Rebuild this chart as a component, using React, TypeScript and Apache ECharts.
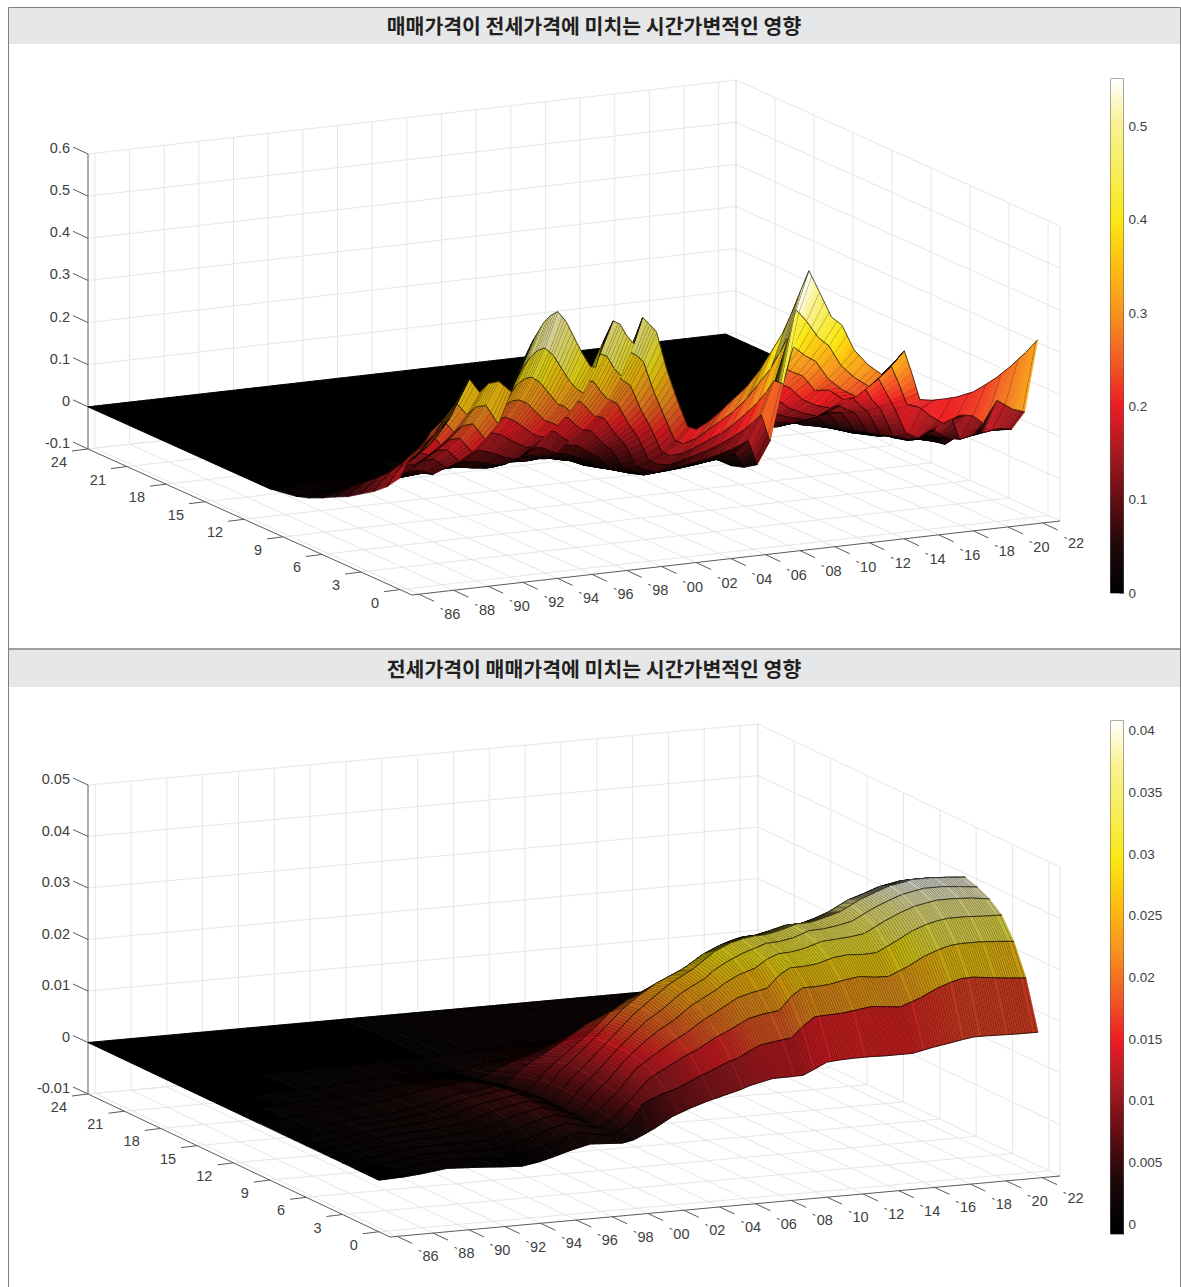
import React, { useEffect, useRef } from "react";
import * as echarts from "echarts";

const titleTop = "매매가격이 전세가격에 미치는 시간가변적인 영향";
const titleBottom = "전세가격이 매매가격에 미치는 시간가변적인 영향";
const timeTicks = [1986,1988,1990,1992,1994,1996,1998,2000,2002,2004,2006,2008,2010,2012,2014,2016,2018,2020,2022];
const horizonTicks = [0,3,6,9,12,15,18,21,24];
const zTicksTop = [-0.1,0,0.1,0.2,0.3,0.4,0.5,0.6];
const zTicksBottom = [-0.01,0,0.01,0.02,0.03,0.04,0.05];
const barTicksTop = [0,0.1,0.2,0.3,0.4,0.5];
const barTicksBottom = [0,0.005,0.01,0.015,0.02,0.025,0.03,0.035,0.04];

const timesTop = [
1985.6,1986,1986.5,1987,1987.5,1988,1988.5,1989,
1989.6,1990.2,1990.7,1991.3,1992,1992.6,1993.3,1993.9,
1994.3,1994.7,1995.2,1995.8,1996.2,1996.6,1996.9,1997.3,
1997.9,1998.3,1998.7,1999.1,1999.6,2000,2000.4,2001,
2001.6,2002.2,2002.7,2003.4,2004,2004.8,2005.6,2006.3,
2007,2007.7,2008.2,2008.7,2009.2,2009.8,2010.5,2011.1,
2011.8,2012.6,2013.4,2014,2014.7,2015.1,2015.6,2016.3,
2017,2017.7,2018.7,2019.4,2020,2020.8,2021.7,2022.4];
const horizonsTop = [0,1,2,3,4,5,6,7,8,10,12,24];
const topH0 = [.165,.195,.225,.235,.255,.27,.295,.334,.381,.346,.365,.367,.34,.40,.457,.495,.51,.517,.49,.438,.405,.377,.375,.43,.48,.47,.44,.42,.48,.462,.442,.349,.275,.209,.2,.215,.233,.26,.287,.32,.362,.406,.45,.499,.546,.493,.43,.408,.346,.307,.28,.30,.33,.28,.21,.205,.205,.206,.214,.228,.241,.263,.293,.32];
const topH1 = [.13,.155,.18,.19,.205,.218,.238,.27,.31,.28,.295,.297,.25,.315,.37,.40,.413,.417,.397,.355,.328,.309,.30,.345,.388,.38,.35,.33,.385,.374,.358,.283,.223,.163,.152,.161,.175,.195,.215,.24,.272,.305,.338,.374,.44,.41,.367,.345,.295,.262,.238,.255,.28,.24,.185,.175,.15,.13,.145,.14,.12,.17,.145,.135];
const topH2 = [.105,.125,.145,.153,.166,.176,.192,.217,.255,.225,.237,.239,.2,.255,.297,.322,.332,.334,.318,.285,.263,.255,.243,.28,.312,.305,.28,.26,.316,.30,.287,.227,.179,.121,.11,.112,.121,.135,.149,.166,.188,.211,.234,.26,.25,.335,.31,.294,.25,.22,.20,.216,.238,.205,.165,.10,.085,.10,.15,.07,.075,.08,.085,.08];
const topH3 = [.085,.10,.117,.122,.133,.14,.153,.174,.211,.18,.19,.191,.155,.2,.238,.257,.265,.266,.255,.228,.21,.203,.195,.224,.25,.244,.225,.205,.255,.24,.23,.182,.143,.088,.076,.071,.077,.086,.095,.106,.119,.134,.149,.165,.10,.275,.258,.245,.208,.205,.18,.18,.198,.17,.145,.08,.07,.075,.08,.06,.065,.068,.07,.064];
const topH4 = [.065,.08,.092,.096,.105,.111,.121,.137,.152,.142,.15,.15,.12,.155,.187,.203,.209,.211,.20,.18,.166,.156,.154,.176,.197,.193,.175,.16,.198,.189,.181,.143,.113,.061,.05,.039,.042,.047,.052,.058,.065,.073,.081,.09,.03,.227,.215,.204,.173,.155,.145,.15,.165,.145,.125,.07,.06,.06,.06,.05,.05,.055,.055,.05];
const topH5 = [.05,.06,.07,.073,.079,.084,.091,.104,.105,.107,.113,.114,.09,.12,.142,.153,.158,.16,.152,.136,.126,.117,.116,.133,.149,.146,.13,.12,.144,.143,.137,.108,.085,.042,.032,.019,.021,.023,.026,.029,.033,.037,.04,.045,.01,.182,.172,.163,.138,.123,.112,.12,.13,.12,.11,.06,.05,.045,.045,.035,.03,.01,.03,.035];
const topH6 = [.034,.04,.045,.047,.051,.054,.059,.067,.065,.069,.073,.073,.06,.078,.091,.099,.102,.105,.098,.088,.081,.075,.075,.086,.096,.094,.085,.078,.095,.092,.088,.07,.055,.025,.018,.009,.009,.01,.011,.013,.014,.016,.018,.02,0,.143,.138,.13,.11,.098,.09,.095,.10,.10,.095,.05,.04,.03,.03,.012,.012,.004,.012,.015];
const topH7 = [.02,.024,.028,.03,.032,.034,.037,.042,.041,.043,.046,.046,.05,.054,.057,.062,.064,.065,.061,.055,.05,.047,.047,.054,.06,.062,.058,.057,.06,.058,.055,.044,.034,.015,.01,.003,.003,.004,.004,.005,.005,.006,.006,.007,0,.103,.103,.098,.083,.074,.067,.07,.075,.08,.08,.04,.03,.02,.015,.004,.004,0,.004,.005];
const topH8 = [.01,.012,.015,.016,.018,.019,.02,.023,.024,.024,.025,.026,.028,.03,.032,.035,.036,.036,.034,.03,.028,.026,.026,.03,.034,.033,.032,.032,.034,.032,.031,.024,.019,.006,.004,0,0,0,0,0,0,0,0,0,0,.069,.069,.065,.055,.049,.045,.048,.05,.055,.06,.03,.02,.01,.005,0,0,0,0,0];
const topH10 = [0,0,.002,.002,.003,.003,.003,.004,.005,.005,.005,.005,.006,.006,.006,.007,.007,.007,.007,.006,.006,.005,.005,.006,.007,.007,.006,.006,.007,.006,.006,.005,.004,0,0,0,0,0,0,0,0,0,0,0,0,.015,.02,.02,.017,.015,.014,.015,.016,.018,.02,.008,.005,0,0,0,0,0,0,0];
const topFlat = [0,0,0,0,0,0,0,0,0,0,0,0,0,0,0,0,0,0,0,0,0,0,0,0,0,0,0,0,0,0,0,0,0,0,0,0,0,0,0,0,0,0,0,0,0,0,0,0,0,0,0,0,0,0,0,0,0,0,0,0,0,0,0,0];
const rowsTop = [topH0,topH1,topH2,topH3,topH4,topH5,topH6,topH7,topH8,topH10,topFlat,topFlat];

const timesBottom = [
1985.6,1987,1988,1989.4,1990.4,1991.4,1992.5,1993.6,
1994.5,1995.3,1996.3,1997.4,1998.3,1999.2,1999.8,2000.4,
2001,2002,2003,2003.9,2004.8,2005.8,2006.3,2007.2,
2007.6,2008.4,2009.3,2010,2010.6,2011.3,2012.1,2013,
2013.8,2014.6,2015.4,2016.5,2017.4,2018.2,2018.8,2019.4,
2020.4,2021.4,2022.4];
const horizonsBottom = [0,1,2,3,4,5,6,7,8,10,12,14,17,24];
const botH0 = [0,.0002,.0005,.0011,.0009,.0007,.0004,.0002,.0007,.0014,.0024,.0033,.0031,.0029,.0033,.0042,.0052,.0072,.0085,.0095,.0103,.0112,.0118,.0125,.0128,.0128,.0129,.014,.015,.0152,.0153,.0153,.0152,.0152,.0152,.016,.0165,.017,.0173,.0173,.0172,.0171,.0171];
const botH1 = [0,.0003,.0007,.0014,.0013,.0011,.0008,.0006,.0012,.0021,.0034,.0044,.0038,.0033,.0042,.0058,.0088,.0103,.0113,.0128,.014,.0155,.016,.0176,.0182,.0186,.019,.0212,.0227,.0228,.0229,.0233,.0237,.0234,.0231,.0245,.026,.027,.0275,.0276,.0272,.0268,.0265];
const botH2 = [0,.0004,.0008,.0015,.0016,.0015,.0013,.0012,.0019,.0028,.0041,.0051,.0044,.0036,.0047,.0067,.0085,.0122,.0141,.0158,.0172,.0192,.0199,.0215,.0222,.0228,.0232,.0258,.0272,.0272,.0274,.028,.0284,.028,.0279,.0295,.0312,.0322,.0328,.033,.033,.0328,.0325];
const botH3 = [0,.0005,.0009,.0016,.0018,.0018,.0018,.0018,.0027,.0036,.0047,.0056,.0048,.0038,.0052,.0074,.0092,.0132,.0155,.0175,.0192,.0215,.0224,.0242,.025,.0258,.0264,.0288,.03,.03,.0303,.0312,.0315,.0313,.0314,.0333,.035,.036,.0365,.0368,.0368,.0366,.0365];
const botH4 = [0,.0006,.001,.0017,.002,.002,.0022,.0024,.0033,.0042,.0052,.0059,.0051,.004,.0056,.0079,.0097,.0135,.0165,.0188,.0206,.0232,.0241,.0258,.0268,.0282,.0292,.0308,.0316,.0317,.0322,.0332,.0334,.0336,.034,.036,.0374,.0384,.0388,.0392,.0392,.039,.0385];
const botH5 = [0,.0006,.0011,.0018,.0021,.0021,.0025,.0029,.0038,.0047,.0055,.0061,.0053,.0041,.0058,.0083,.01,.0136,.0168,.0195,.0215,.0242,.0252,.0268,.028,.0296,.031,.0318,.0325,.0326,.0331,.0342,.0343,.0347,.0353,.0373,.0386,.0396,.04,.0404,.0404,.0401,.0397];
const botH6 = [0,.0006,.0011,.0018,.0021,.0022,.0026,.0032,.0042,.005,.0056,.0062,.0055,.0042,.006,.0085,.0102,.0135,.0168,.0198,.0222,.0248,.0258,.0275,.0285,.0305,.0319,.0325,.0328,.0329,.0335,.0344,.0345,.0352,.036,.038,.0392,.0402,.0405,.041,.041,.0408,.0405];
const botH7 = [0,.0006,.001,.0017,.002,.0022,.0026,.0033,.0043,.005,.0055,.0061,.0054,.0041,.006,.0085,.0102,.0133,.0165,.0195,.0218,.024,.0248,.0262,.027,.0288,.0302,.031,.0315,.0316,.0322,.033,.033,.0338,.0348,.0368,.0378,.0388,.0392,.0396,.0396,.0394,.039];
const botH8 = [0,.0005,.0009,.0016,.0018,.002,.0025,.0031,.004,.0047,.005,.0056,.005,.0038,.0056,.0079,.0095,.0122,.015,.0178,.0198,.0215,.022,.0232,.024,.0255,.0268,.0275,.028,.0282,.0288,.0295,.0297,.0303,.0312,.033,.034,.035,.0355,.036,.036,.0358,.0355];
const botH10 = [0,.0003,.0006,.0012,.0014,.0016,.002,.0025,.0032,.0037,.004,.0043,.0038,.003,.0042,.006,.0072,.0092,.0112,.0132,.0145,.0158,.0162,.0172,.0178,.0188,.0196,.02,.0205,.0206,.021,.0215,.0216,.022,.0226,.0238,.0246,.0252,.0256,.026,.026,.0258,.0256];
const botH12 = [0,.0002,.0003,.0007,.0009,.001,.0012,.0016,.002,.0024,.0025,.0027,.0024,.0019,.0027,.0038,.0045,.0056,.0068,.008,.0088,.0096,.0098,.0104,.0108,.0114,.012,.0122,.0124,.0125,.0127,.013,.013,.0134,.0138,.0145,.015,.0154,.0156,.0158,.0158,.0157,.0155];
const botH14 = [0,.0001,.0001,.0003,.0004,.0005,.0006,.0008,.001,.0012,.0012,.0013,.0012,.0009,.0013,.0018,.0022,.0028,.0034,.004,.0044,.0048,.0049,.0052,.0054,.0057,.006,.0061,.0062,.0062,.0063,.0065,.0065,.0067,.0069,.0072,.0075,.0077,.0078,.0079,.0079,.0078,.0077];
const botH17 = [0,0,0,.0001,.0001,.0001,.0002,.0002,.0003,.0003,.0003,.0004,.0003,.0002,.0004,.0005,.0006,.0008,.001,.0012,.0013,.0014,.0015,.0015,.0016,.0017,.0018,.0018,.0019,.0019,.0019,.002,.002,.002,.0021,.0022,.0022,.0023,.0023,.0024,.0024,.0023,.0023];
const botFlat = [0,0,0,0,0,0,0,0,0,0,0,0,0,0,0,0,0,0,0,0,0,0,0,0,0,0,0,0,0,0,0,0,0,0,0,0,0,0,0,0,0,0,0,0,0,0,0,0,0,0,0,0,0,0,0,0,0,0,0,0,0,0,0];
const rowsBottom = [botH0,botH1,botH2,botH3,botH4,botH5,botH6,botH7,botH8,botH10,botH12,botH14,botH17,botFlat];

// colour map: fraction of the bar's maximum -> colour
const colorStops = [
  [0,[0,0,0]],[0.09,[30,8,8]],[0.182,[98,14,18]],[0.27,[165,26,32]],[0.364,[237,28,36]],
  [0.45,[241,90,36]],[0.545,[247,148,30]],[0.636,[253,190,16]],[0.727,[250,232,20]],
  [0.82,[247,238,90]],[0.91,[249,241,145]],[1,[255,255,255]],
];
function mapRgb(f) {
  const v = Math.max(0, Math.min(1, f));
  for (let i = 1; i < colorStops.length; i++) {
    const [a, ca] = colorStops[i - 1];
    const [b, cb] = colorStops[i];
    if (v <= b) {
      const k = (v - a) / (b - a);
      return [ca[0] + (cb[0] - ca[0]) * k, ca[1] + (cb[1] - ca[1]) * k, ca[2] + (cb[2] - ca[2]) * k];
    }
  }
  return [255, 255, 255];
}
function mapColor(f, shade = 1) {
  const c = mapRgb(f);
  return `rgb(${Math.round(c[0] * shade)},${Math.round(c[1] * shade)},${Math.round(c[2] * shade)})`;
}

const T_MIN = 1985.6, T_SPAN = 37.4, H_MIN = -0.92, H_SPAN = 24.92;
const AXIS_FONT = '14.5px "Liberation Sans", Arial, sans-serif';
const AXIS_TEXT = "#404040";

const viewTop = {
  ox: 412, oy: 595, xv: [648, -74], yv: [-324, -146], zh: 295, zMin: -0.1, zMax: 0.6,
  times: timesTop, hs: horizonsTop, rows: rowsTop, cMax: 0.551, zTicks: zTicksTop, stripPx: 2.7,
  hatchAlpha: 0.7, edgeOn: 6,
  meshTone: (t) => (t < 2002.4 ? 0.84 : 1),
  pitch: (t) => (t < 2002.4 ? 2.7 : t < 2008.6 ? 13 : t < 2013.5 ? 6 : 17),
};
const viewBottom = {
  ox: 390, oy: 1237, xv: [670, -61], yv: [-302, -143], zh: 309, zMin: -0.01, zMax: 0.05,
  times: timesBottom, hs: horizonsBottom, rows: rowsBottom, cMax: 0.0408, zTicks: zTicksBottom, stripPx: 2.4,
  hatchAlpha: 0.7, edgeOn: 7,
  meshTone: () => 0.76,
  pitch: () => 2.4,
};

function project(v, t, h, z) {
  const tx = (t - T_MIN) / T_SPAN;
  const ty = (h - H_MIN) / H_SPAN;
  return [
    v.ox + v.xv[0] * tx + v.yv[0] * ty,
    v.oy + v.xv[1] * tx + v.yv[1] * ty - v.zh * (z - v.zMin) / (v.zMax - v.zMin),
  ];
}
function corner(v, tx, ty, z) {
  return [
    v.ox + v.xv[0] * tx + v.yv[0] * ty,
    v.oy + v.xv[1] * tx + v.yv[1] * ty - v.zh * (z - v.zMin) / (v.zMax - v.zMin),
  ];
}

function frameSeries(v) {
  return {
    type: "custom", coordinateSystem: "cartesian2d", xAxisIndex: 0, yAxisIndex: 0, z: 1, silent: true, clip: false,
    data: [[0, 0]],
    renderItem: (_p, api) => {
      const c = (p) => api.coord(p);
      const kids = [];
      const line = (a, b, stroke, w) => {
        const p = c(a), q = c(b);
        kids.push({ type: "line", shape: { x1: p[0], y1: p[1], x2: q[0], y2: q[1] }, style: { stroke, lineWidth: w } });
      };
      const grid = "#e6e6e6";
      const dark = "#5a5a5a";
      const zb = v.zMin, zt = v.zMax;
      for (const t of timeTicks) {
        const tx = (t - T_MIN) / T_SPAN;
        line(corner(v, tx, 1, zb), corner(v, tx, 1, zt), grid, 1);
        line(corner(v, tx, 0, zb), corner(v, tx, 1, zb), grid, 1);
      }
      for (const h of horizonTicks) {
        const ty = (h - H_MIN) / H_SPAN;
        line(corner(v, 1, ty, zb), corner(v, 1, ty, zt), grid, 1);
        line(corner(v, 0, ty, zb), corner(v, 1, ty, zb), grid, 1);
      }
      for (const z of v.zTicks) {
        line(corner(v, 0, 1, z), corner(v, 1, 1, z), grid, 1);
        line(corner(v, 1, 1, z), corner(v, 1, 0, z), grid, 1);
      }
      line(corner(v, 1, 1, zb), corner(v, 1, 1, zt), grid, 1);
      line(corner(v, 1, 0, zb), corner(v, 1, 0, zt), grid, 1);
      line(corner(v, 0, 0, zb), corner(v, 1, 0, zb), dark, 1);
      line(corner(v, 0, 0, zb), corner(v, 0, 1, zb), dark, 1);
      line(corner(v, 0, 1, zb), corner(v, 0, 1, zt), dark, 1);
      const text = (s, p, align) => {
        const q = c(p);
        kids.push({ type: "text", x: q[0], y: q[1], style: { text: s, font: AXIS_FONT, fill: AXIS_TEXT, align, verticalAlign: "middle" } });
      };
      for (const t of timeTicks) {
        const a = corner(v, (t - T_MIN) / T_SPAN, 0, zb);
        line(a, [a[0] + 15, a[1] + 7], dark, 1);
        text("`" + String(t).slice(2), [a[0] + 31, a[1] + 20], "center");
      }
      for (const h of horizonTicks) {
        const a = corner(v, 0, (h - H_MIN) / H_SPAN, zb);
        line(a, [a[0] - 16, a[1] + 2], dark, 1);
        text(String(h), [a[0] - 21, a[1] + 13], "right");
      }
      for (const z of v.zTicks) {
        const a = corner(v, 0, 1, z);
        line(a, [a[0] - 15, a[1] - 7], dark, 1);
        text(String(z), [a[0] - 18, a[1] - 6], "right");
      }
      return { type: "group", children: kids };
    },
  };
}

function surfaceSeries(v) {
  const cells = [];
  for (let i = v.times.length - 2; i >= 0; i--) {
    for (let j = v.hs.length - 2; j >= 0; j--) cells.push([i, j]);
  }
  return {
    type: "custom", coordinateSystem: "cartesian2d", xAxisIndex: 0, yAxisIndex: 0, z: 2, silent: true, clip: false,
    progressive: 0,
    data: cells,
    renderItem: (p, api) => {
      const [i, j] = cells[p.dataIndex];
      const t0 = v.times[i], t1 = v.times[i + 1], h0 = v.hs[j], h1 = v.hs[j + 1];
      const z00 = v.rows[j][i], z10 = v.rows[j][i + 1], z01 = v.rows[j + 1][i], z11 = v.rows[j + 1][i + 1];
      const zAt = (a, b) => (1 - a) * (1 - b) * z00 + a * (1 - b) * z10 + (1 - a) * b * z01 + a * b * z11;
      const pt = (a, b) => api.coord(project(v, t0 + (t1 - t0) * a, h0 + (h1 - h0) * b, zAt(a, b)));
      const maxZ = Math.max(z00, z10, z01, z11);
      if (maxZ < v.cMax * 0.012) {
        return {
          type: "polygon",
          shape: { points: [pt(0, 0), pt(1, 0), pt(1, 1), pt(0, 1)] },
          style: { fill: "#000", stroke: "#000", lineWidth: 1 },
        };
      }
      const a = pt(0, 0), b = pt(1, 0), d = pt(0, 1), e = pt(1, 1);
      const width = Math.abs(b[0] - a[0]);
      const n = Math.max(1, Math.ceil(width / v.stripPx));
      const kids = [];
      const hatchAt = (tv) => Math.floor((tv - T_MIN) * 17.6 / v.pitch(tv));
      const span = Math.max(1, h1 - h0);
      for (let s = n - 1; s >= 0; s--) {
        const a0 = s / n, a1 = (s + 1) / n;
        const p00 = pt(a0, 0), p10 = pt(a1, 0), p11 = pt(a1, 1), p01 = pt(a0, 1);
        // a facet seen nearly edge-on packs its mesh lines together, so it reads darker
        const ux = p10[0] - p00[0], uy = p10[1] - p00[1];
        const wx = (p01[0] - p00[0]) / span, wy = (p01[1] - p00[1]) / span;
        const thick = Math.abs(ux * wy - uy * wx) / Math.max(0.01, Math.hypot(ux, uy));
        const shade = 1 - Math.max(0, Math.min(0.85, (v.edgeOn - thick) / v.edgeOn));
        const tMid = t0 + (t1 - t0) * (a0 + a1) / 2;
        const col = mapColor(zAt((a0 + a1) / 2, 0) / v.cMax, shade * v.meshTone(tMid));
        kids.push({
          type: "polygon",
          shape: { points: [p00, p10, p11, p01] },
          style: { fill: col, stroke: col, lineWidth: 0.6 },
        });
        const ta = t0 + (t1 - t0) * a1, tb = t0 + (t1 - t0) * a0;
        if (hatchAt(ta) !== hatchAt(tb)) {
          kids.push({
            type: "line",
            shape: { x1: p00[0], y1: p00[1], x2: p01[0], y2: p01[1] },
            style: { stroke: `rgba(0,0,0,${v.hatchAlpha})`, lineWidth: 1 },
          });
        }
      }
      const rowLine = { stroke: "rgba(0,0,0,0.85)", lineWidth: 0.8 };
      kids.push({ type: "line", shape: { x1: d[0], y1: d[1], x2: e[0], y2: e[1] }, style: rowLine });
      kids.push({ type: "line", shape: { x1: a[0], y1: a[1], x2: b[0], y2: b[1] }, style: rowLine });
      return { type: "group", children: kids };
    },
  };
}

function barSeries(gridIndex, min, max, cMax) {
  return {
    type: "custom", coordinateSystem: "cartesian2d", xAxisIndex: gridIndex, yAxisIndex: gridIndex, z: 1, silent: true,
    data: [[0, min, max]],
    renderItem: (_p, api) => {
      const lo = api.coord([0, api.value(1)]);
      const hi = api.coord([1, api.value(2)]);
      const stops = colorStops.map(([f]) => ({
        offset: Math.max(0, Math.min(1, (f * cMax - min) / (max - min))),
        color: mapColor(f),
      }));
      return {
        type: "rect",
        shape: { x: lo[0], y: hi[1], width: hi[0] - lo[0], height: lo[1] - hi[1] },
        style: { fill: new echarts.graphic.LinearGradient(0, 1, 0, 0, stops) },
      };
    },
  };
}

function barAxis(gridIndex, min, max, ticks) {
  return {
    gridIndex, type: "value", min, max, position: "right", silent: true,
    axisLine: { show: true, onZero: false, lineStyle: { color: "#5a5a5a", width: 1 } },
    axisTick: { show: true, inside: true, length: 4, customValues: ticks, lineStyle: { color: "#5a5a5a" } },
    axisLabel: { show: true, margin: 5, customValues: ticks, color: AXIS_TEXT, fontFamily: '"Liberation Sans", Arial, sans-serif', fontSize: 13.5, formatter: (x) => String(x), hideOverlap: false, showMinLabel: true, showMaxLabel: true },
    splitLine: { show: false },
  };
}

export default function App() {
  const ref = useRef(null);
  useEffect(() => {
    const chart = echarts.init(ref.current, null, { renderer: "svg" });
    const titleStyle = { color: "#231f20", fontFamily: '"Noto Sans CJK KR", sans-serif', fontWeight: "bold", fontSize: 20.5 };
    const band = { fill: "#e6e7e8" };
    chart.setOption({
      animation: false,
      title: [
        { text: titleTop, left: 589, top: 10, textAlign: "center", textStyle: titleStyle },
        { text: titleBottom, left: 589, top: 653, textAlign: "center", textStyle: titleStyle },
      ],
      graphic: [
        { type: "rect", z: -2, shape: { x: 8.5, y: 7.5, width: 1172, height: 36.5 }, style: band },
        { type: "rect", z: -2, shape: { x: 8.5, y: 649.5, width: 1172, height: 37.5 }, style: band },
        { type: "rect", z: -1, shape: { x: 8.5, y: 7.5, width: 1172, height: 641.5 }, style: { fill: "none", stroke: "#808080", lineWidth: 1 } },
        { type: "rect", z: -1, shape: { x: 8.5, y: 649, width: 1172, height: 660 }, style: { fill: "none", stroke: "#808080", lineWidth: 1 } },
      ],
      grid: [
        { left: 0, right: 0, top: 0, bottom: 0 },
        { left: 1110.5, width: 13, top: 79, height: 514, show: true, borderColor: "#5a5a5a", borderWidth: 1, backgroundColor: "transparent" },
        { left: 1110.5, width: 13, top: 721, height: 513, show: true, borderColor: "#5a5a5a", borderWidth: 1, backgroundColor: "transparent" },
      ],
      xAxis: [
        { gridIndex: 0, type: "value", min: 0, max: 1181, show: false },
        { gridIndex: 1, type: "value", min: 0, max: 1, show: false },
        { gridIndex: 2, type: "value", min: 0, max: 1, show: false },
      ],
      yAxis: [
        { gridIndex: 0, type: "value", min: 0, max: 1287, inverse: true, show: false },
        barAxis(1, 0, 0.551, barTicksTop),
        barAxis(2, -0.0008, 0.0408, barTicksBottom),
      ],
      series: [
        frameSeries(viewTop),
        frameSeries(viewBottom),
        surfaceSeries(viewTop),
        surfaceSeries(viewBottom),
        barSeries(1, 0, 0.551, 0.551),
        barSeries(2, -0.0008, 0.0408, 0.0408),
      ],
    });
    return () => chart.dispose();
  }, []);
  return <div ref={ref} style={{ position: "absolute", left: 0, top: 0, width: 1181, height: 1287, overflow: "hidden", background: "#fff" }} />;
}
